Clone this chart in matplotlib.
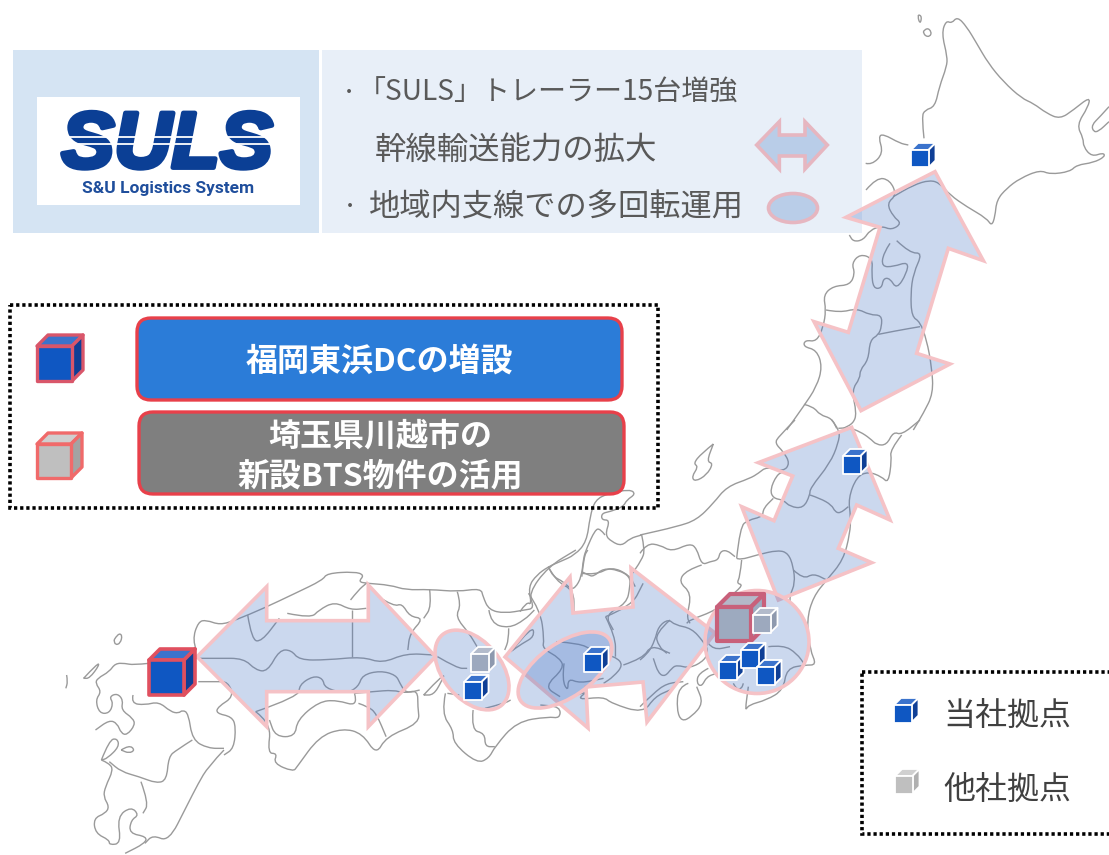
import matplotlib
matplotlib.use('Agg')
import matplotlib.pyplot as plt
import matplotlib.patheffects as pe
from matplotlib.path import Path
from matplotlib.patches import Polygon, Rectangle, Ellipse, FancyBboxPatch, PathPatch

plt.rcParams['font.family'] = ['Noto Sans CJK JP', 'DejaVu Sans']

# ---- map outlines (four tracing grids) ----
north_lines = [
    [(672,415),(665,350),(675,330),(705,320),(718,260),(740,200),(742,170),(725,100),(738,62),(755,70),(772,50),(800,80),(830,130),(865,190),(910,245),(965,295),(1000,310),(1040,340),(1080,357),(1120,330),(1170,290),(1165,320),(1130,375),(1150,415),(1150,440),(1175,470),(1210,458),(1215,470),(1180,488),(1130,495),(1110,515),(1050,523),(1020,510),(960,535),(920,565),(890,600),(885,650),(875,678),(860,655),(800,620),(750,585),(720,550),(690,540),(640,555),(580,590)],
    [(497,490),(515,495),(550,460),(535,410),(550,402),(600,430),(625,435)],
    [(655,45),(665,45),(662,70),(655,60),(655,45)],
    [(670,95),(680,82),(695,95),(690,110),(675,108),(670,95)],
    [(1227,320),(1200,350),(1175,375),(1180,395),(1195,395),(1227,365)],
    [(498,570),(530,532),(570,540),(590,585),(560,610),(580,650),(605,670),(575,690),(545,678),(510,690),(490,720),(460,725),(448,705)],
    [(590,722),(630,760),(668,758),(640,820),(632,880),(635,950),(660,965),(680,1020),(695,1100),(700,1180),(670,1240),(640,1290)],
    [(570,730),(550,760),(545,800),(580,800),(625,785),(620,820),(590,868),(570,835),(550,835),(545,865),(520,865),(515,820),(518,775),(480,762),(455,790),(465,820),(450,855),(400,858),(370,885),(378,930),(370,980),(350,1025),(315,1020),(310,1040),(350,1050),(367,1100),(350,1160),(310,1220),(260,1290)],
    [(378,930),(420,938),(470,925),(510,945),(545,945),(545,980),(535,1005),(510,1020),(505,1080),(480,1110),(480,1135),(455,1170),(470,1240),(460,1270),(430,1285)],
    [(535,1003),(590,992),(660,980)],
    [(312,1213),(340,1220),(360,1245),(395,1255),(410,1285)],
]
center_lines = [
    [(465,0),(415,50),(405,70),(430,95),(450,130),(430,155),(380,140),(355,160),(330,175),(260,200),(220,250),(170,300),(110,320),(0,345)],
    [(220,72),(185,100),(160,130),(175,140),(155,170),(165,185),(200,165),(220,130),(200,125),(220,72)],
    [(575,0),(600,30),(595,70),(570,130),(510,205),(510,225),(490,265),(450,260),(430,240),(400,235),(390,210),(410,165),(430,155)],
    [(595,25),(625,22),(660,35),(690,55),(710,75),(740,75),(760,35),(785,45),(840,0)],
    [(785,45),(750,90),(755,120),(745,190),(725,170),(685,155),(650,170),(625,235),(632,290),(630,340),(610,420),(560,480),(520,530),(500,600),(510,690),(530,735),(495,735),(440,745),(430,810),(380,840),(325,855),(315,875),(325,800)],
    [(510,225),(540,235),(575,255),(585,275),(600,280),(625,260)],
    [(290,415),(300,420),(350,405),(415,390),(445,400),(460,440),(465,490),(450,525),(450,550)],
    [(460,450),(490,478),(520,460),(560,480)],
    [(290,415),(300,320),(325,300),(368,290),(370,265),(400,235)],
    [(305,420),(300,470),(290,490),(310,495),(270,530),(230,570),(150,600),(140,610)],
    [(0,400),(20,370),(60,375),(95,395),(150,370),(170,385),(185,435),(210,425),(235,420),(240,395),(260,390),(285,410)],
    [(185,435),(140,450),(115,485),(155,520),(140,590),(150,610)],
    [(385,680),(430,675),(470,700),(495,735)],
    [(205,670),(220,690),(270,680)],
    [(205,745),(175,760),(170,790),(185,800),(200,770),(230,760)],
    [(145,790),(115,800),(110,870),(125,905),(155,890),(190,850),(170,800)],
    [(280,790),(290,810),(305,805),(310,790)],
    [(0,720),(25,700),(45,660),(55,620),(85,597),(105,615),(155,625),(190,665),(205,690),(195,720),(150,745),(110,735),(95,745),(75,770),(55,760),(40,715)],
    [(0,860),(40,820),(80,790),(130,785)],
]
west_lines = [
    [(370,300),(360,270),(375,215),(395,210),(430,225),(470,210),(540,175),(620,130),(690,90),(700,70),(770,65),(795,75),(780,95),(800,100),(860,105),(900,120),(960,118),(1030,125),(1090,115),(1095,140),(1110,180),(1150,190),(1200,180),(1225,175),(1210,130),(1260,50),(1330,0)],
    [(375,395),(420,395),(450,395),(465,440),(425,470),(420,490),(460,500),(470,530),(465,595),(440,615)],
    [(85,385),(120,340),(125,345),(100,385),(85,385)],
    [(162,270),(172,250),(183,255),(178,280),(165,285),(162,270)],
    [(42,375),(45,395),(40,415)],
    [(250,340),(210,345),(190,340),(165,340),(150,365),(120,385),(115,400),(130,425),(115,450),(125,490),(150,490),(160,460),(150,440),(170,430),(185,450),(180,480),(210,505),(215,525),(195,555),(180,550),(170,520),(150,510),(115,540)],
    [(130,630),(150,570),(170,565),(175,590),(145,625),(130,630)],
    [(180,600),(200,585),(215,600),(200,610),(180,600)],
    [(130,630),(150,640),(160,660),(140,710),(135,740),(150,770),(140,790),(110,805),(115,850),(150,870),(150,885),(180,880),(170,800),(205,770),(225,795),(205,810),(200,850),(245,860),(240,880),(190,910)],
    [(440,600),(400,650),(375,700),(345,770),(300,875),(260,855),(240,880)],
    [(210,435),(205,460),(240,465),(275,455),(305,485),(325,490),(335,480),(350,490),(360,570),(400,595),(440,595)],
    [(360,570),(320,600),(300,620),(295,690),(270,700),(225,680),(180,665),(150,635)],
    [(230,695),(250,760),(235,790)],
    [(370,325),(425,325),(490,325),(520,360),(550,365),(580,300),(610,300),(630,330),(700,330),(790,320),(840,340),(900,310),(970,315)],
    [(500,195),(510,270),(535,275),(580,205)],
    [(600,190),(660,205),(680,180),(720,155),(760,180),(800,175)],
    [(765,180),(765,320)],
    [(760,150),(780,120),(800,100)],
    [(830,140),(870,170),(890,160),(910,200),(945,205),(910,250),(905,300)],
    [(960,118),(965,170),(945,205)],
    [(520,485),(630,440),(630,405),(665,378),(690,385),(695,415),(750,430),(780,410),(790,375),(835,362),(875,375),(885,400),(900,430),(935,420)],
    [(520,485),(560,520),(550,610),(575,610),(565,640),(615,665),(625,650),(680,560),(740,535),(790,550),(825,615),(850,560),(935,520),(930,470),(930,420),(895,430),(870,420),(815,425),(770,430)],
    [(770,430),(780,470),(725,450),(680,455),(625,510),(620,560),(570,560),(555,510)],
    [(780,460),(805,470),(825,490),(850,560)],
    [(945,435),(1000,365),(990,395),(970,435),(945,435)],
    [(1000,430),(990,490),(1020,540),(1020,580),(1080,640),(1110,625),(1125,590),(1180,515),(1260,500),(1290,505),(1290,470),(1240,465)],
    [(1030,125),(1040,165),(1025,200),(1060,250),(1080,290)],
    [(1110,180),(1115,220),(1160,235),(1200,210),(1225,180)],
    [(1160,235),(1160,270),(1150,300)],
    [(1170,300),(1220,225),(1225,260),(1195,280),(1165,305)],
    [(980,320),(1030,355),(1055,355)],
    [(1005,430),(1035,435)],
    [(1070,480),(1065,540),(1100,550),(1100,590),(1125,590)],
    [(1100,475),(1150,460),(1165,450)],
    [(1260,50),(1280,95),(1325,120),(1325,190)],
    [(1345,80),(1350,20),(1360,0)],
    [(1345,70),(1380,75),(1420,50),(1465,75),(1480,110)],
    [(1210,130),(1240,180),(1250,270),(1245,295),(1290,325),(1300,355),(1250,410),(1290,440)],
    [(1300,340),(1295,390),(1310,425),(1310,385),(1340,400),(1400,385)],
    [(1320,440),(1365,420),(1330,450),(1400,440),(1420,460),(1500,490),(1530,440),(1568,420)],
    [(1280,275),(1340,280),(1370,300),(1430,320),(1450,345),(1425,380),(1400,400)],
    [(1450,345),(1500,325),(1520,285),(1568,310)],
    [(1405,200),(1430,260),(1430,320)],
    [(1405,200),(1470,170),(1500,100)],
    [(1568,210),(1530,250),(1540,290),(1560,310)],
]
hokuriku_lines = [
    [(0,425),(20,395),(35,405),(25,350),(50,315),(85,290),(120,275),(165,255),(200,215),(210,140),(225,90),(265,70),(330,58),(347,72),(320,90),(310,110),(270,125),(245,130),(245,150),(270,150),(255,195),(275,215),(305,228),(330,205),(365,195)],
    [(255,195),(240,175),(225,180),(200,235),(190,265),(185,320),(165,355),(150,355),(130,335),(100,320),(85,290)],
    [(185,305),(205,315),(220,320),(250,295),(295,300),(330,320),(330,350),(320,400),(255,435),(280,480)],
    [(365,195),(375,240),(365,270),(330,320)],
]

# ---- arrows and ellipses ----
arrow_tohoku = [(705,515),(850,782),(745,745),(650,1060),(750,1092),(483,1232),(342,965),(445,997),(540,682),(438,652)]
arrow_kanto = [(635,22),(750,300),(650,255),(595,385),(695,428),(415,540),(305,260),(402,302),(458,168),(355,128)]
arrow_west = [(372,320),(548,110),(548,212),(805,212),(805,105),(975,320),(805,530),(805,425),(548,425),(548,530)]
arrow_chubu = [(505,657),(570,577),(573,613),(633,607),(631,568),(715,633),(647,722),(643,682),(586,687),(588,728)]
arrow_key = [(170,435),(238,365),(238,405),(315,405),(315,365),(382,435),(315,507),(315,468),(238,468),(238,507)]

# center x, center y, width, height, angle
ellipses = [(472,670,92,58,50), (565,670,108,54,-35), (757,642,104,103,0)]

# ---- cubes: left, top of the front face ----
our_sites = [(911,150),(843,456),(719,662),(741,650),(757,667),(464,682),(584,654)]
other_sites = [(753,615),(471,654)]
key_our = (894,705)
key_other = (895,776)

panel_lines = ['「SULS」トレーラー15台増強', '幹線輸送能力の拡大', '地域内支線での多回転運用']

BLUE = '#0F57C2'
MAP = '#9a9a9a'
TXT = '#595959'


def to_north(pts):
    return [(700 + x / 3, y / 3) for x, y in pts]


def to_center(pts):
    return [(640 + x / 3, 420 + y / 3) for x, y in pts]


def to_west(pts):
    return [(50 + x / 2.529, 550 + y / 3) for x, y in pts]


def to_hokuriku(pts):
    return [(520 + x / 3, 470 + y / 3) for x, y in pts]


def coast(pts):
    # traced points become control points so the outline reads soft, not angular
    verts = [pts[0]]
    codes = [Path.MOVETO]
    for i in range(1, len(pts) - 1):
        mid = ((pts[i][0] + pts[i + 1][0]) / 2, (pts[i][1] + pts[i + 1][1]) / 2)
        verts += [pts[i], mid]
        codes += [Path.CURVE3, Path.CURVE3]
    verts.append(pts[-1])
    codes.append(Path.LINETO)
    ax.add_patch(PathPatch(Path(verts, codes), fc='none', ec=MAP, lw=1.0, zorder=1))


def cube(x, y, s, d, front, top, side, edge, lw, z=6):
    ax.add_patch(Polygon([(x, y), (x + d, y - d), (x + s + d, y - d), (x + s, y)], fc=top, ec=edge, lw=lw, zorder=z, joinstyle='round'))
    ax.add_patch(Polygon([(x + s, y), (x + s + d, y - d), (x + s + d, y + s - d), (x + s, y + s)], fc=side, ec=edge, lw=lw, zorder=z, joinstyle='round'))
    ax.add_patch(Rectangle((x, y), s, s, fc=front, ec=edge, lw=lw, zorder=z, joinstyle='round'))


def small_cube(x, y, front, top, side):
    cube(x, y, 17.5, 7, front, top, side, 'white', 1.3)


def flow(pts):
    ax.add_patch(Polygon(pts, fc=(0.27, 0.45, 0.77, 0.28), ec='#F5C2C6', lw=2.6, zorder=4, joinstyle='miter'))


fig = plt.figure(figsize=(11.09, 8.55), dpi=100)
ax = fig.add_axes([0, 0, 1, 1])
ax.set_xlim(0, 1109)
ax.set_ylim(855, 0)
ax.axis('off')

# map
for lines, conv in [(north_lines, to_north), (center_lines, to_center), (west_lines, to_west), (hokuriku_lines, to_hokuriku)]:
    for line in lines:
        coast(conv(line))

# top panel
ax.add_patch(Rectangle((13, 50), 306, 183, fc='#D5E4F3', ec='none', zorder=2))
ax.add_patch(Rectangle((322, 50), 540, 183, fc='#E8EFF8', ec='none', zorder=2))
ax.add_patch(Rectangle((37, 97), 263, 108, fc='white', ec='none', zorder=3))
ax.text(167, 147, 'SULS', family='Liberation Sans', fontsize=57, fontweight='bold', style='italic', color='#0B3F95', ha='center', va='center', zorder=4,
        path_effects=[pe.withStroke(linewidth=3.5, foreground='#0B3F95')])
ax.plot([58, 277], [137, 137], color='white', lw=1.3, zorder=5)
ax.plot([58, 277], [144, 144], color='white', lw=1.3, zorder=5)
ax.text(168, 188, 'S&U Logistics System', family='Roboto', fontsize=12.5, fontweight='bold', color='#1F4E9C', ha='center', va='center', zorder=4)

ax.text(349, 93, '・', fontsize=13, color=TXT, ha='center', va='center', zorder=5)
ax.text(358, 93, panel_lines[0], fontsize=20.2, color=TXT, ha='left', va='center', zorder=5)
ax.text(375, 150, panel_lines[1], fontsize=22.6, color=TXT, ha='left', va='center', zorder=5)
ax.text(350, 207, '・', fontsize=13, color=TXT, ha='center', va='center', zorder=5)
ax.text(369, 207, panel_lines[2], fontsize=22.5, color=TXT, ha='left', va='center', zorder=5)

# flows
flow(to_north(arrow_tohoku))
flow(to_center(arrow_kanto))
flow(to_west(arrow_west))
flow(arrow_chubu)
for cx, cy, w, h, ang in ellipses:
    ax.add_patch(Ellipse((cx, cy), w, h, angle=ang, fc=(0.27, 0.45, 0.77, 0.28), ec='#F5C2C6', lw=2.6, zorder=4))
ax.add_patch(Polygon(to_north(arrow_key), fc='#B9CDE8', ec='#E6B6C0', lw=2.6, zorder=4))
ax.add_patch(Ellipse((793, 208), 49, 29, fc='#B9CDE8', ec='#E6B6C0', lw=2.6, zorder=4))

# dotted boxes
ax.add_patch(Rectangle((10, 305), 648, 203, fc='none', ec='black', lw=2.6, ls=(0, (0.9, 0.8)), zorder=3))
ax.add_patch(Rectangle((862, 672), 300, 162, fc='none', ec='black', lw=2.6, ls=(0, (0.9, 0.8)), zorder=3))

# feature boxes
ax.add_patch(FancyBboxPatch((149, 330), 461, 58, boxstyle='round,pad=12,rounding_size=14', fc='#2B7CD8', ec='#E8404A', lw=2.4, zorder=5))
ax.add_patch(FancyBboxPatch((151, 424), 461, 58, boxstyle='round,pad=12,rounding_size=14', fc='#7F7F7F', ec='#E8404A', lw=2.4, zorder=5))
ax.text(379, 362, '福岡東浜DCの増設', fontsize=23, fontweight='bold', color='white', ha='center', va='center', zorder=6)
ax.text(380, 437, '埼玉県川越市の', fontsize=23, fontweight='bold', color='white', ha='center', va='center', zorder=6)
ax.text(380, 476, '新設BTS物件の活用', fontsize=23, fontweight='bold', color='white', ha='center', va='center', zorder=6)

# big cubes
cube(37, 346, 35, 11, BLUE, '#3B73CC', '#0F3F96', '#D9566A', 2.4)
cube(37, 444, 34, 11, '#BFBFBF', '#CFCFCF', '#A3A3A3', '#F06A6A', 2.4)
cube(149, 660, 35, 11, BLUE, '#3B73CC', '#0F3F96', '#E0505F', 2.6)
cube(717, 607, 34, 13, '#9DAABF', '#B4B8C8', '#9DAABF', '#C8607A', 3)

# sites
for x, y in our_sites:
    small_cube(x, y, BLUE, '#3B73CC', '#0F3F96')
for x, y in other_sites:
    small_cube(x, y, '#9DA9BE', '#B3BBCB', '#8E99AE')
small_cube(key_our[0], key_our[1], BLUE, '#3B73CC', '#0F3F96')
small_cube(key_other[0], key_other[1], '#BFBFBF', '#D0D0D0', '#B0B0B0')

# site key
ax.text(943, 716, '当社拠点', fontsize=23, color='#404040', ha='left', va='center', zorder=6)
ax.text(943, 790, '他社拠点', fontsize=23, color='#404040', ha='left', va='center', zorder=6)

fig.savefig('out.png', dpi=100)
